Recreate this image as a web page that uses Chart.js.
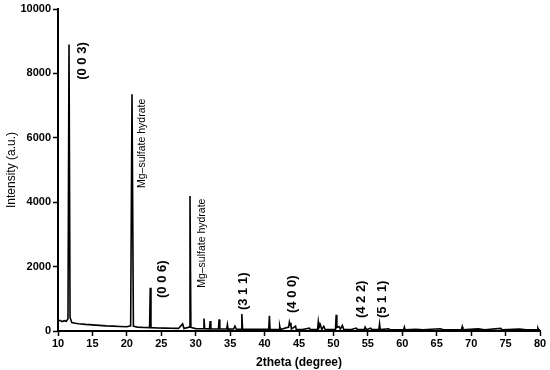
<!DOCTYPE html>
<html>
<head>
<meta charset="utf-8">
<script src="https://cdn.jsdelivr.net/npm/chart.js"></script>
<style>
  html, body { margin: 0; padding: 0; background: #fff; }
  #wrap { width: 550px; height: 370px; }
</style>
</head>
<body>
<div id="wrap"><canvas id="xrd" width="550" height="370"></canvas></div>
<script>
// XRD pattern
const twoTheta = [
  10.0, 10.3, 10.6, 10.9, 11.2, 11.45, 11.6, 11.75, 12.0, 12.5,
  13.0, 14.0, 15.0, 16.0, 17.0, 18.0, 19.0, 20.0, 20.55, 20.75,
  20.95, 21.5, 22.5, 23.3, 23.4, 23.5, 24.5, 25.5, 26.5, 27.5,
  28.1, 28.3, 29.05, 29.17, 29.3, 30.0, 31.1, 31.2, 31.3, 32.0,
  32.1, 32.2, 33.3, 33.4, 33.5, 34.5, 34.6, 34.7, 35.5, 35.7,
  35.9, 36.6, 36.7, 36.8, 38.0, 39.0, 40.6, 40.7, 40.8, 42.1,
  42.2, 42.3, 43.5, 43.6, 43.7, 43.8, 43.9, 44.5, 44.6, 45.5,
  46.5, 46.6, 47.7, 47.8, 47.9, 48.1, 48.3, 48.6, 48.8, 50.3,
  50.4, 50.5, 50.8, 51.0, 51.3, 51.5, 52.5, 53.3, 53.5, 54.5,
  54.6, 54.8, 55.4, 55.6, 56.6, 56.7, 56.8, 58.0, 58.2, 59.0,
  60.2, 60.3, 60.4, 62.0, 63.0, 65.5, 66.0, 68.6, 68.7, 68.8,
  71.0, 72.0, 74.3, 74.5, 77.0, 78.0, 79.6, 79.7, 79.8, 80.0
];
const intensity = [
  300, 330, 290, 320, 300, 380, 8900, 420, 260, 240,
  225, 205, 190, 175, 160, 150, 140, 130, 160, 7350,
  150, 120, 110, 105, 1345, 105, 95, 90, 85, 80,
  220, 80, 120, 4190, 110, 75, 70, 390, 70, 65,
  310, 65, 62, 360, 62, 60, 200, 58, 60, 150,
  55, 58, 530, 55, 52, 50, 50, 470, 48, 48,
  150, 46, 120, 270, 180, 260, 60, 150, 45, 45,
  90, 45, 45, 280, 100, 200, 45, 140, 45, 45,
  500, 110, 140, 60, 170, 45, 42, 90, 42, 42,
  120, 42, 90, 42, 45, 220, 42, 70, 40, 40,
  40, 120, 40, 55, 40, 70, 40, 40, 130, 40,
  65, 40, 80, 40, 60, 40, 40, 90, 40, 40
];

// peak labels: text, 2theta, intensity at the start of the text
const peakLabels = ['(0 0 3)', 'Mg\u2013sulfate hydrate', '(0 0 6)', 'Mg\u2013sulfate hydrate', '(3 1 1)', '(4 0 0)', '(4 2 2)', '(5 1 1)'];
const labelTheta = [13.5, 22.2, 25.1, 30.9, 36.9, 44.1, 54.1, 57.15];
const labelY = [7800, 4440, 1025, 1340, 650, 560, 400, 400];
const labelBold = [true, false, true, false, true, true, true, true];

const xTicks = [10, 15, 20, 25, 30, 35, 40, 45, 50, 55, 60, 65, 70, 75, 80];
const yTicks = [0, 2000, 4000, 6000, 8000, 10000];

const FONT = "'Liberation Sans', Arial, sans-serif";

// draws the rotated peak labels
const peakText = {
  id: 'peakText',
  afterDatasetsDraw(chart) {
    const ctx = chart.ctx;
    const xs = chart.scales.x, ys = chart.scales.y;
    peakLabels.forEach((txt, i) => {
      ctx.save();
      ctx.translate(xs.getPixelForValue(labelTheta[i]), ys.getPixelForValue(labelY[i]));
      ctx.rotate(-Math.PI / 2);
      ctx.fillStyle = '#000';
      ctx.textAlign = 'left';
      ctx.textBaseline = 'middle';
      ctx.font = labelBold[i] ? 'bold 13px ' + FONT : '10.5px ' + FONT;
      ctx.fillText(txt, 0, 0);
      ctx.restore();
    });
  }
};

new Chart(document.getElementById('xrd'), {
  type: 'line',
  data: {
    datasets: [{
      data: twoTheta.map((t, i) => ({ x: t, y: intensity[i] })),
      borderColor: '#000',
      borderWidth: 1.6,
      pointRadius: 0,
      tension: 0,
      fill: false
    }]
  },
  options: {
    responsive: false,
    animation: false,
    layout: { padding: { top: 9, right: 10, left: 0, bottom: 0 } },
    plugins: { legend: { display: false }, tooltip: { enabled: false } },
    scales: {
      x: {
        type: 'linear',
        min: 10, max: 80,
        afterBuildTicks: s => { s.ticks = xTicks.map(v => ({ value: v })); },
        afterFit: s => { s.height = 39; },
        ticks: { color: '#000', font: { family: FONT, size: 11, weight: 'bold' }, padding: 1, maxRotation: 0, callback: v => String(v) },
        grid: { drawOnChartArea: false, tickLength: 5, tickColor: '#000', tickWidth: 1.5 },
        border: { color: '#000', width: 2 },
        title: { display: true, text: '2theta (degree)', color: '#000', font: { family: FONT, size: 12, weight: 'bold' }, padding: { top: 3, bottom: 0 } }
      },
      y: {
        min: 0, max: 10000,
        afterBuildTicks: s => { s.ticks = yTicks.map(v => ({ value: v })); },
        afterFit: s => { s.width = 58; },
        ticks: { color: '#000', font: { family: FONT, size: 11, weight: 'bold' }, padding: 2, callback: v => String(v) },
        grid: { drawOnChartArea: false, tickLength: 5, tickColor: '#000', tickWidth: 1.5 },
        border: { color: '#000', width: 2 },
        title: { display: true, text: 'Intensity (a.u.)', color: '#000', font: { family: FONT, size: 12 }, padding: { top: 4, bottom: 0 } }
      }
    }
  },
  plugins: [peakText]
});
</script>
</body>
</html>
